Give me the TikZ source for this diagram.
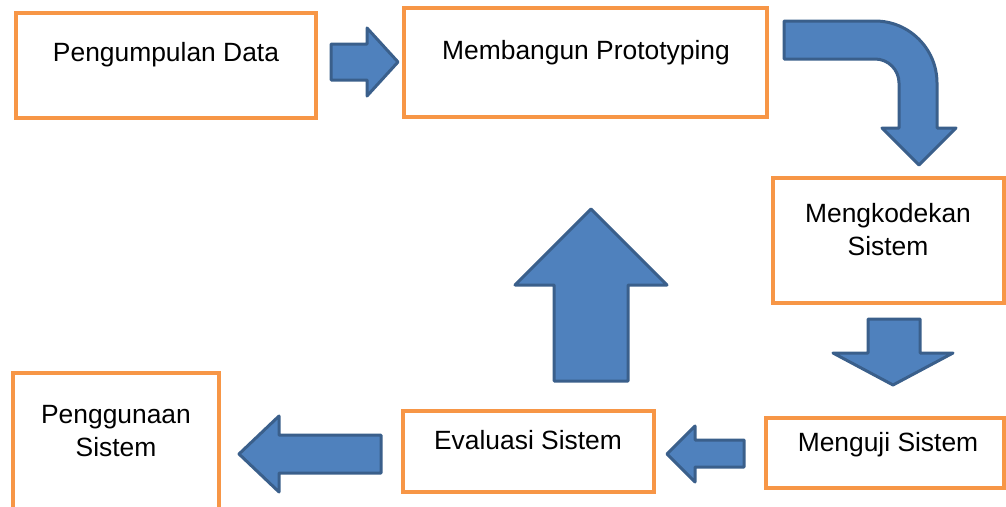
\documentclass[tikz,border=0pt]{standalone}
\usepackage{fontspec}
\setmainfont{Liberation Sans}
\definecolor{boxorange}{HTML}{F79646}
\definecolor{arrowfill}{HTML}{4F81BD}
\definecolor{arrowline}{HTML}{3A5F8B}
\begin{document}
\begin{tikzpicture}[x=1pt,y=-1pt,
  box/.style={draw=boxorange,line width=4pt,fill=white,inner sep=0pt},
  txt/.style={font=\fontsize{26.4}{33}\selectfont,align=center,inner sep=0pt},
  blockarrow/.style={fill=arrowfill,draw=arrowline,line width=3pt,line join=round}]
\useasboundingbox (0,0) rectangle (1006,506);
% boxes
\node[box,minimum width=300,minimum height=105] (b1) at (166,65.5) {};
\node[box,minimum width=363,minimum height=109] (b2) at (585.5,62.5) {};
\node[box,minimum width=231,minimum height=125] (b3) at (888.5,240.5) {};
\node[box,minimum width=238,minimum height=70] (b4) at (885,453) {};
\node[box,minimum width=251,minimum height=81] (b5) at (528.5,451.5) {};
\node[box,minimum width=206,minimum height=150] (b6) at (116,448) {};
% texts
\node[txt] (t1) at (166,55) {Pengumpulan Data};
\node[txt] (t2) at (586,53) {Membangun Prototyping};
\node[txt] (t3) at (888,230) {Mengkodekan\\Sistem};
\node[txt] (t4) at (888,445) {Menguji Sistem};
\node[txt] (t5) at (528,440) {Evaluasi Sistem};
\node[txt] (t6) at (116,431) {Penggunaan\\Sistem};
% block arrows
\draw[blockarrow] (331,44) -- (367,44) -- (367,28) -- (398,62) -- (367,96) -- (367,80) -- (331,80) -- cycle;
\draw[blockarrow] (784,21) -- (875,21) arc[start angle=-90,end angle=0,radius=62] -- (937,128) -- (956,128) -- (919,165) -- (882,128) -- (899,128) -- (899,83) arc[start angle=0,end angle=-90,radius=24] -- (784,59) -- cycle;
\draw[blockarrow] (868,319) -- (920,319) -- (920,353) -- (953,353) -- (893,385) -- (833,353) -- (868,353) -- cycle;
\draw[blockarrow] (744,440) -- (744,467) -- (695,467) -- (695,482) -- (667,454) -- (695,426) -- (695,440) -- cycle;
\draw[blockarrow] (381,435) -- (381,473) -- (279,473) -- (279,492) -- (239,454) -- (279,416) -- (279,435) -- cycle;
\draw[blockarrow] (554,381) -- (554,285) -- (515,285) -- (591,209) -- (667,285) -- (628,285) -- (628,381) -- cycle;
\end{tikzpicture}
\end{document}
